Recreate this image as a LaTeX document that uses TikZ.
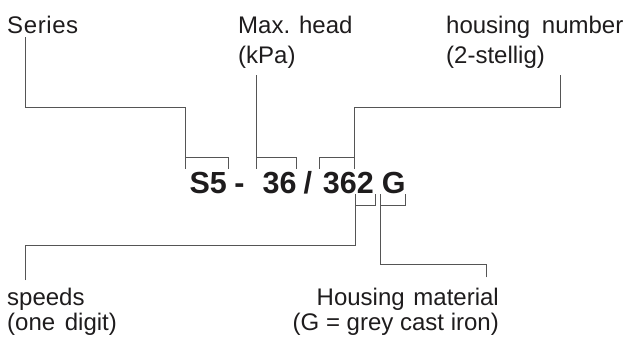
\documentclass[tikz,border=0pt]{standalone}
\usepackage{fontspec}
\setmainfont{Liberation Sans}
\definecolor{txt}{HTML}{1E1C1D}
\definecolor{ln}{HTML}{555555}
\begin{document}
\begin{tikzpicture}[x=1pt,y=-1pt,
  lbl/.style={inner sep=0pt,text=txt,font=\fontsize{24}{28}\selectfont},
  code/.style={inner sep=0pt,text=txt,font=\fontsize{30.5}{36}\selectfont\bfseries,anchor=base},
  lead/.style={draw=ln,line width=1pt}]
\useasboundingbox (0,0) rectangle (631,338);
% labels
\node[lbl,anchor=base west] (series) at (7,33) {S\hspace{0.6pt}e\hspace{0.6pt}r\hspace{0.6pt}i\hspace{0.6pt}e\hspace{0.6pt}s};
\node[lbl,anchor=base west] (head1) at (238,33) {Max. head};
\node[lbl,anchor=base west] (head2) at (238,63) {(kPa)};
\node[lbl,anchor=base west] (hnum1) at (446,33) {housing\hspace{5pt} number};
\node[lbl,anchor=base west] (hnum2) at (446,63) {(2-stellig)};
\node[lbl,anchor=base west] (speed1) at (7,305) {speeds};
\node[lbl,anchor=base west] (speed2) at (7,330) {(one\hspace{3pt} digit)};
\node[lbl,anchor=base east] (mat1) at (499,305) {Housing\hspace{2pt} material};
\node[lbl,anchor=base east] (mat2) at (499,330) {(G = grey cast iron)};
% type code
\node[code] (cs5) at (208.3,193.3) {S5};
\node[code] (cdash) at (239.5,193.3) {-};
\node[code] (c36) at (279.7,193.3) {36};
\node[code] (cslash) at (307.8,193.3) {/};
\node[code] (c362) at (348.3,193.3) {362};
\node[code] (cg) at (393.8,193.3) {G};
% coordinates
\coordinate (sA) at (25.7,37);
\coordinate (hA) at (256,75);
\coordinate (nA) at (560,75);
\coordinate (pA) at (25.3,280);
\coordinate (mA) at (486,277.3);
% leaders and brackets (top)
\draw[lead] (sA) |- (185,107.7) -- (185,168.5);
\draw[lead] (185,157.7) -| (228.3,168.5);
\draw[lead] (hA) -- (256,168.5);
\draw[lead] (256,157.7) -| (296.7,168.5);
\draw[lead] (nA) |- (354.3,107.7) -- (354.3,168.5);
\draw[lead] (354.3,157.7) -| (319.3,168.5);
% leaders and brackets (bottom)
\draw[lead] (pA) |- (355.7,245.7) -- (355.7,194);
\draw[lead] (355.7,205) -| (375,194);
\draw[lead] (mA) |- (380.3,264.3) -- (380.3,194);
\draw[lead] (380.3,205) -| (405.5,194);
\end{tikzpicture}
\end{document}
